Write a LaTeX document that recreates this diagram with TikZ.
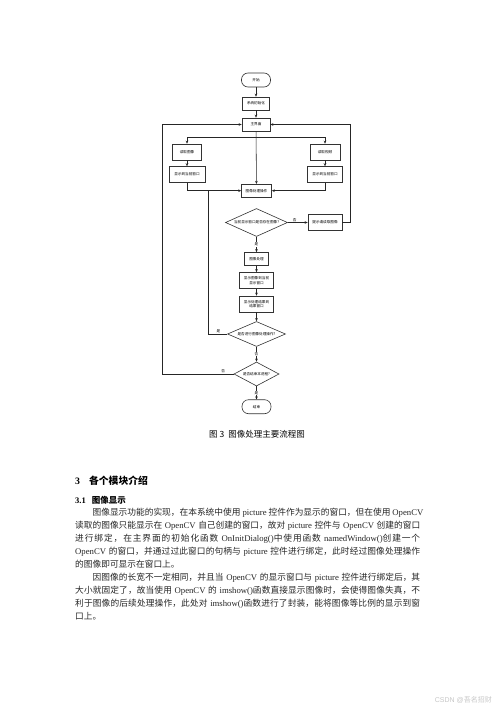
\documentclass[tikz,border=0pt]{standalone}
\usepackage{fontspec}
\setmainfont{Noto Sans CJK SC}
\newfontfamily\latfont{Liberation Serif}
\newfontfamily\wmfont{Liberation Sans}
\newcommand\latw[1]{{\latfont #1}}
\newcommand\jline[1]{\hbox to 345pt{\spaceskip=2.6pt plus 0.6pt minus 0.6pt\relax #1}}
\XeTeXinterchartokenstate=1
\newcount\cjkcnt
\cjkcnt="4E00
\loop \XeTeXcharclass\cjkcnt=7 \advance\cjkcnt 1 \ifnum\cjkcnt<"9FA6 \repeat
\XeTeXcharclass"FF0C=7
\XeTeXcharclass"3002=7
\XeTeXcharclass"3001=7
\XeTeXinterchartoks 7 7 = {\hskip 0pt plus 1pt\relax}
\usetikzlibrary{shapes.geometric,arrows.meta}
\tikzset{
  fbox/.style={draw=black!80, line width=0.6pt, inner sep=0pt, align=center,
    font=\fontsize{3.6}{4.6}\selectfont},
  term/.style={fbox, rounded corners=6.5pt},
  dia/.style={draw=black!80, line width=0.6pt, diamond, inner sep=0pt,
    font=\fontsize{3.6}{4.6}\selectfont},
  conn/.style={draw=black!85, line width=0.55pt},
  arr/.style={conn, -{Stealth[length=3pt,width=2.6pt]}},
  lab/.style={font=\fontsize{3.6}{4}\selectfont, inner sep=0.6pt},
  body/.style={anchor=west, inner sep=0pt, text=black!85,
    font=\fontsize{8.7}{10}\selectfont}
}
\begin{document}
\begin{tikzpicture}[x=1pt,y=-1pt]
\fill[white] (0,0) rectangle (500,707);
\useasboundingbox (0,0) rectangle (500,707);
% flowchart nodes
\node[term, minimum width=29pt, minimum height=14pt] (start) at (256,80) {开始};
\node[fbox, minimum width=27pt, minimum height=13pt] (init) at (256,103.5) {系统初始化};
\node[fbox, minimum width=28pt, minimum height=13pt] (main) at (256,124.5) {主界面};
\node[fbox, minimum width=29pt, minimum height=16pt] (readimg) at (187,152) {读取图像};
\node[fbox, minimum width=36pt, minimum height=16pt] (showL) at (187,174.5) {显示到当前窗口};
\node[fbox, minimum width=30pt, minimum height=16pt] (readvid) at (325,152) {读取视频};
\node[fbox, minimum width=35pt, minimum height=16pt] (showR) at (325,174.5) {显示到当前窗口};
\node[fbox, minimum width=30pt, minimum height=13pt] (proc) at (256.5,190.7) {图像处理操作};
\node[dia, minimum width=62pt, minimum height=28pt] (d1) at (256.5,222.5) {\makebox[0pt]{当前显示窗口是否存在图像?}};
\node[fbox, minimum width=34pt, minimum height=16pt] (tip) at (325,222.5) {提示请读取图像};
\node[fbox, minimum width=24pt, minimum height=13pt] (imgp) at (256.5,259) {图像处理};
\node[fbox, minimum width=34pt, minimum height=16pt] (show1) at (256.5,280.5) {显示图像到当前\\显示窗口};
\node[fbox, minimum width=34pt, minimum height=16pt] (show2) at (256.5,304) {显示处理结果到\\结果窗口};
\node[dia, minimum width=58pt, minimum height=25pt] (d2) at (256.5,334) {\makebox[0pt]{是否进行图像处理操作?}};
\node[dia, minimum width=45pt, minimum height=24pt] (d3) at (256.5,374) {\makebox[0pt]{是否结束本进程?}};
\node[term, minimum width=29pt, minimum height=14pt] (end) at (256.5,406.7) {结束};
% helper coordinates
\coordinate (br) at (256.5,137.7);
\coordinate (rt) at (350.7,222.5);
\coordinate (lj) at (208.3,334);
\coordinate (lt) at (208.3,190.7);
\coordinate (oj) at (162.7,374);
% connectors
\draw[arr] (start) -- (init);
\draw[arr] (init) -- (main);
\draw[arr] (main) -- (proc);
\draw[arr] (br) -| (readimg.north);
\draw[arr] (br) -| (readvid.north);
\draw[arr] (readimg) -- (showL);
\draw[arr] (readvid) -- (showR);
\draw[arr] (showL.south) |- (proc.west);
\draw[arr] (showR.south) |- (proc.east);
\draw[arr] (d1.east) -- node[lab, above, pos=0.35] {否} (tip.west);
\draw[arr] (tip.east) -- (rt) |- (main.east);
\draw[arr] (d1.south) -- node[lab, fill=white] {是} (imgp.north);
\draw[arr] (imgp) -- (show1);
\draw[arr] (show1) -- (show2);
\draw[arr] (show2) -- (d2.north);
\draw[conn] (d2.west) -- node[lab, above, pos=0.47] {是} (lj) -- (lt);
\draw[arr] (d2.south) -- node[lab, fill=white] {否} (d3.north);
\draw[arr] (d3.west) -- node[lab, above, pos=0.15] {否} (oj) |- (main.west);
\draw[arr] (d3.south) -- node[lab, fill=white] {是} (end.north);
% caption and text
\node[inner sep=0pt, font=\fontsize{8.5}{10}\selectfont] (cap) at (257,434) {图 3\hskip4pt 图像处理主要流程图};
\node[anchor=west, inner sep=0pt, font=\fontsize{9.8}{12}\selectfont\bfseries] (h3) at (75,481) {{\latfont\bfseries 3}\hskip 9pt 各个模块介绍};
\node[anchor=west, inner sep=0pt, font=\fontsize{8.5}{10}\selectfont\bfseries] (h31) at (75,500) {{\latfont\bfseries 3.1}\hskip 6pt 图像显示};
\node[body] (l1) at (75,513) {\jline{\hskip17.4pt 图像显示功能的实现，在本系统中使用 \latw{picture} 控件作为显示的窗口，但在使用 \latw{OpenCV}}};
\node[body] (l2) at (75,525.9) {\jline{读取的图像只能显示在 \latw{OpenCV} 自己创建的窗口，故对 \latw{picture} 控件与 \latw{OpenCV} 创建的窗口}};
\node[body] (l3) at (75,538.8) {\jline{进行绑定，在主界面的初始化函数 \latw{OnInitDialog()}中使用函数 \latw{namedWindow()}创建一个}};
\node[body] (l4) at (75,551.7) {\jline{\latw{OpenCV} 的窗口，并通过过此窗口的句柄与 \latw{picture} 控件进行绑定，此时经过图像处理操作}};
\node[body] (l5) at (75,564.6) {的图像即可显示在窗口上。};
\node[body] (l6) at (75,577.5) {\jline{\hskip17.4pt 因图像的长宽不一定相同，并且当 \latw{OpenCV} 的显示窗口与 \latw{picture} 控件进行绑定后，其}};
\node[body] (l7) at (75,590.4) {\jline{大小就固定了，故当使用 \latw{OpenCV} 的 \latw{imshow()}函数直接显示图像时，会使得图像失真，不}};
\node[body] (l8) at (75,603.3) {\jline{利于图像的后续处理操作，此处对 \latw{imshow()}函数进行了封装，能将图像等比例的显示到窗}};
\node[body] (l9) at (75,616.2) {口上。};
\node[anchor=east, inner sep=0pt, text=black!22, font=\fontsize{7}{8}\selectfont] (wm) at (492,700) {{\wmfont CSDN @}吾名招财};
\end{tikzpicture}
\end{document}
